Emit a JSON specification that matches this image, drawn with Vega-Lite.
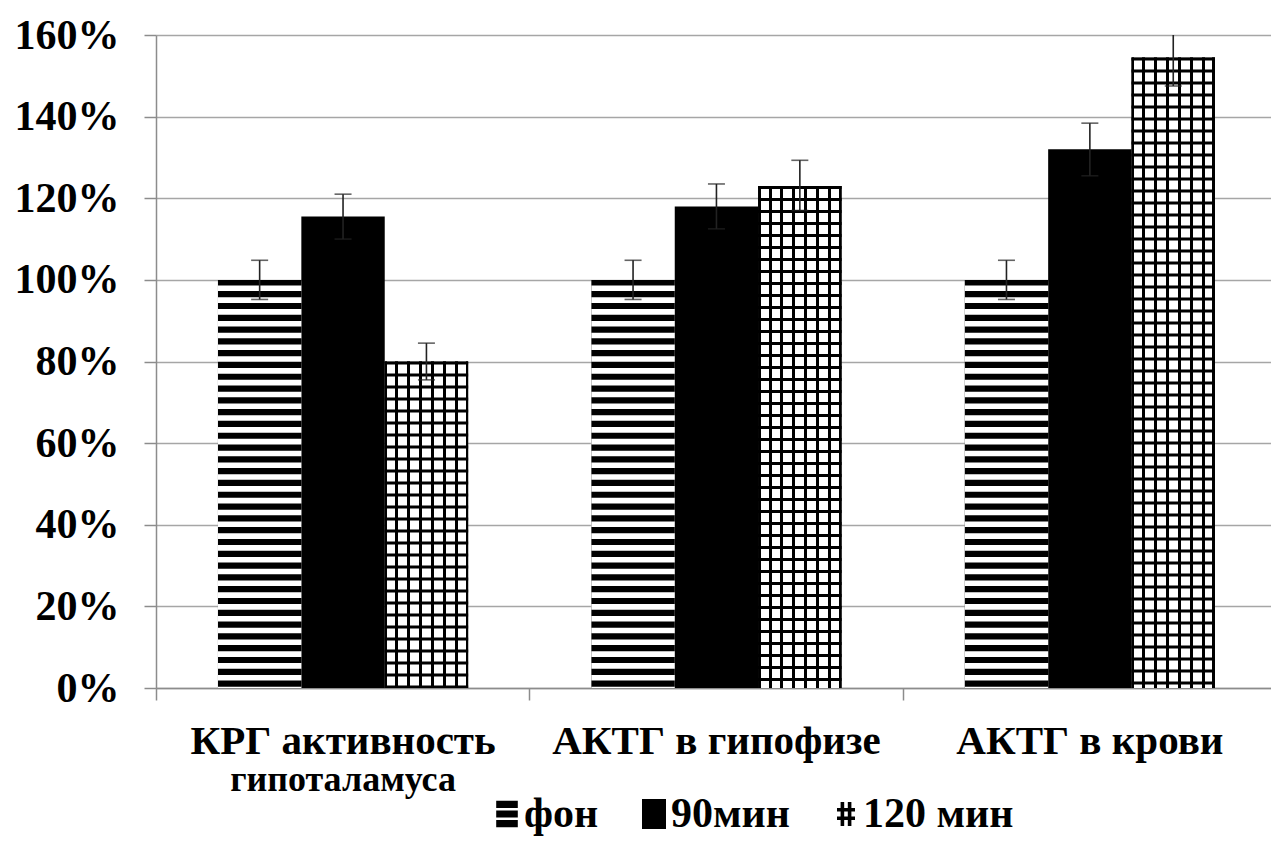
{
  "$schema": "https://vega.github.io/schema/vega-lite/v6.json",
  "width": 1115,
  "height": 653,
  "autosize": {"type": "none"},
  "padding": {"left": 156, "top": 35, "right": 0, "bottom": 166},
  "background": "white",
  "data": {
    "values": [
      {"cat": "КРГ активность", "grp": "фон", "value": 100, "lo": 95.2, "hi": 104.8},
      {"cat": "КРГ активность", "grp": "90мин", "value": 115.5, "lo": 110, "hi": 121},
      {"cat": "КРГ активность", "grp": "120 мин", "value": 80, "lo": 75.5, "hi": 84.5},
      {"cat": "АКТГ в гипофизе", "grp": "фон", "value": 100, "lo": 95.2, "hi": 104.8},
      {"cat": "АКТГ в гипофизе", "grp": "90мин", "value": 118, "lo": 112.5, "hi": 123.5},
      {"cat": "АКТГ в гипофизе", "grp": "120 мин", "value": 123, "lo": 117, "hi": 129.3},
      {"cat": "АКТГ в крови", "grp": "фон", "value": 100, "lo": 95.2, "hi": 104.8},
      {"cat": "АКТГ в крови", "grp": "90мин", "value": 132, "lo": 125.5, "hi": 138.4},
      {"cat": "АКТГ в крови", "grp": "120 мин", "value": 154.5, "lo": 147.5, "hi": 161.5}
    ]
  },
  "resolve": {"axis": {"x": "independent"}},
  "layer": [
    {
      "mark": {"type": "bar"},
      "encoding": {
        "x": {"field": "cat", "type": "nominal", "title": null,
          "scale": {"domain": ["КРГ активность", "АКТГ в гипофизе", "АКТГ в крови"], "paddingInner": 0.33, "paddingOuter": 0.158, "align": 0.525},
          "axis": {"orient": "bottom", "labelFontSize": 41, "labelPadding": 33, "ticks": false, "tickSize": 0, "domain": true, "domainColor": "#8c8c8c", "domainWidth": 1.5, "labelAngle": 0, "labelLimit": 0, "grid": false}},
        "xOffset": {"field": "grp", "type": "nominal", "scale": {"domain": ["фон", "90мин", "120 мин"], "paddingInner": 0, "paddingOuter": 0}},
        "y": {"field": "value", "type": "quantitative", "title": null,
          "scale": {"domain": [0, 160], "nice": false},
          "axis": {"values": [0, 20, 40, 60, 80, 100, 120, 140, 160], "labelExpr": "datum.value + '%'", "labelFontSize": 42, "labelPadding": 25, "tickSize": 12, "tickWidth": 1.5, "tickColor": "#8c8c8c", "grid": true, "gridColor": "#a6a6a6", "gridWidth": 1.5, "domainColor": "#8c8c8c", "domainWidth": 1.5}},
        "fill": {"field": "grp", "type": "nominal",
          "scale": {"domain": ["фон", "90мин", "120 мин"], "range": ["#000000", "#000000", "#000000"]},
          "legend": {"orient": "none", "legendX": 330, "legendY": 758, "direction": "horizontal", "title": null, "padding": 0,
            "labelFontSize": 42, "labelFont": "Liberation Serif", "labelFontWeight": "bold", "labelColor": "black",
            "symbolSize": 576, "symbolStrokeWidth": 0, "columnPadding": 34, "labelOffset": -4, "labelLimit": 0,
            "encode": {"symbols": {"update": {
              "shape": {"signal": "datum.value === 'фон' ? 'M-0.9,-1.1H0.9V-0.5H-0.9Z M-0.9,-0.3H0.9V0.3H-0.9Z M-0.9,0.5H0.9V1.1H-0.9Z' : datum.value === '90мин' ? 'M-1,-1.25H1V1.25H-1Z' : 'M-0.45,-1H-0.15V1H-0.45Z M0.15,-1H0.45V1H0.15Z M-0.75,-0.5H0.75V-0.2H-0.75Z M-0.75,0.2H0.75V0.5H-0.75Z'"}
            }}}}
        }
      }
    },
    {
      "transform": [{"filter": "datum.grp === '120 мин'"}],
      "mark": {"type": "bar",
        "fill": {"gradient": "linear", "x1": 0, "y1": 0, "x2": 1, "y2": 0, "stops": [
          {"offset": 0, "color": "#000"}, {"offset": 0.03, "color": "#000"}, {"offset": 0.03, "color": "#fff"},
          {"offset": 0.125, "color": "#fff"}, {"offset": 0.125, "color": "#000"}, {"offset": 0.161, "color": "#000"}, {"offset": 0.161, "color": "#fff"},
          {"offset": 0.268, "color": "#fff"}, {"offset": 0.268, "color": "#000"}, {"offset": 0.304, "color": "#000"}, {"offset": 0.304, "color": "#fff"},
          {"offset": 0.411, "color": "#fff"}, {"offset": 0.411, "color": "#000"}, {"offset": 0.447, "color": "#000"}, {"offset": 0.447, "color": "#fff"},
          {"offset": 0.554, "color": "#fff"}, {"offset": 0.554, "color": "#000"}, {"offset": 0.589, "color": "#000"}, {"offset": 0.589, "color": "#fff"},
          {"offset": 0.696, "color": "#fff"}, {"offset": 0.696, "color": "#000"}, {"offset": 0.732, "color": "#000"}, {"offset": 0.732, "color": "#fff"},
          {"offset": 0.839, "color": "#fff"}, {"offset": 0.839, "color": "#000"}, {"offset": 0.875, "color": "#000"}, {"offset": 0.875, "color": "#fff"},
          {"offset": 0.97, "color": "#fff"}, {"offset": 0.97, "color": "#000"}, {"offset": 1, "color": "#000"}
        ]}},
      "encoding": {
        "x": {"field": "cat", "type": "nominal", "title": null,
          "scale": {"domain": ["КРГ активность", "АКТГ в гипофизе", "АКТГ в крови"], "paddingInner": 0.33, "paddingOuter": 0.158, "align": 0.525},
          "axis": null},
        "xOffset": {"field": "grp", "type": "nominal", "scale": {"domain": ["фон", "90мин", "120 мин"], "paddingInner": 0, "paddingOuter": 0}},
        "y": {"field": "value", "type": "quantitative", "title": null, "scale": {"domain": [0, 160], "nice": false}}
      }
    },
    {
      "transform": [{"filter": "datum.grp === 'фон'"}],
      "mark": {"type": "rule", "color": "#fff", "strokeWidth": 83.4, "strokeDash": [5.6, 6.2], "strokeDashOffset": 6.2, "strokeCap": "butt"},
      "encoding": {
        "x": {"field": "cat", "type": "nominal", "title": null,
          "scale": {"domain": ["КРГ активность", "АКТГ в гипофизе", "АКТГ в крови"], "paddingInner": 0.33, "paddingOuter": 0.158, "align": 0.525},
          "axis": null},
        "xOffset": {"field": "grp", "type": "nominal", "scale": {"domain": ["фон", "90мин", "120 мин"], "paddingInner": 0, "paddingOuter": 0}},
        "y": {"field": "value", "type": "quantitative", "title": null, "scale": {"domain": [0, 160], "nice": false}},
        "y2": {"datum": 0}
      }
    },
    {
      "transform": [{"filter": "datum.grp === '120 мин'"}],
      "mark": {"type": "rule", "color": "#000", "strokeWidth": 83.4, "strokeDash": [3, 9], "strokeCap": "butt"},
      "encoding": {
        "x": {"field": "cat", "type": "nominal", "title": null,
          "scale": {"domain": ["КРГ активность", "АКТГ в гипофизе", "АКТГ в крови"], "paddingInner": 0.33, "paddingOuter": 0.158, "align": 0.525},
          "axis": null},
        "xOffset": {"field": "grp", "type": "nominal", "scale": {"domain": ["фон", "90мин", "120 мин"], "paddingInner": 0, "paddingOuter": 0}},
        "y": {"field": "value", "type": "quantitative", "title": null, "scale": {"domain": [0, 160], "nice": false}},
        "y2": {"datum": 0}
      }
    },
    {
      "mark": {"type": "rule", "color": "#222", "strokeWidth": 1.6, "clip": true},
      "encoding": {
        "x": {"field": "cat", "type": "nominal", "title": null,
          "scale": {"domain": ["КРГ активность", "АКТГ в гипофизе", "АКТГ в крови"], "paddingInner": 0.33, "paddingOuter": 0.158, "align": 0.525},
          "axis": {"orient": "bottom", "labelExpr": "datum.label === 'КРГ активность' ? 'гипоталамуса' : ''", "labelFontSize": 36, "labelPadding": 74, "ticks": false, "tickSize": 0, "domain": false, "labelAngle": 0, "labelLimit": 0, "grid": false}},
        "xOffset": {"field": "grp", "type": "nominal", "scale": {"domain": ["фон", "90мин", "120 мин"], "paddingInner": 0, "paddingOuter": 0}},
        "y": {"field": "lo", "type": "quantitative", "title": null, "scale": {"domain": [0, 160], "nice": false}},
        "y2": {"field": "hi"}
      }
    },
    {
      "mark": {"type": "tick", "color": "#222", "thickness": 1.6, "size": 17, "clip": true},
      "encoding": {
        "x": {"field": "cat", "type": "nominal", "title": null,
          "scale": {"domain": ["КРГ активность", "АКТГ в гипофизе", "АКТГ в крови"], "paddingInner": 0.33, "paddingOuter": 0.158, "align": 0.525},
          "axis": null},
        "xOffset": {"field": "grp", "type": "nominal", "scale": {"domain": ["фон", "90мин", "120 мин"], "paddingInner": 0, "paddingOuter": 0}},
        "y": {"field": "lo", "type": "quantitative", "title": null, "scale": {"domain": [0, 160], "nice": false}}
      }
    },
    {
      "mark": {"type": "tick", "color": "#222", "thickness": 1.6, "size": 17, "clip": true},
      "encoding": {
        "x": {"field": "cat", "type": "nominal", "title": null,
          "scale": {"domain": ["КРГ активность", "АКТГ в гипофизе", "АКТГ в крови"], "paddingInner": 0.33, "paddingOuter": 0.158, "align": 0.525},
          "axis": {"orient": "bottom", "labels": false, "domain": false, "ticks": true, "tickSize": 12, "tickWidth": 1.5, "tickColor": "#8c8c8c", "bandPosition": -0.246, "grid": false}},
        "xOffset": {"field": "grp", "type": "nominal", "scale": {"domain": ["фон", "90мин", "120 мин"], "paddingInner": 0, "paddingOuter": 0}},
        "y": {"field": "hi", "type": "quantitative", "title": null, "scale": {"domain": [0, 160], "nice": false}}
      }
    }
  ],
  "config": {
    "font": "Liberation Serif",
    "view": {"stroke": null},
    "axis": {"labelFont": "Liberation Serif", "labelFontWeight": "bold", "labelColor": "#000000"}
  }
}
